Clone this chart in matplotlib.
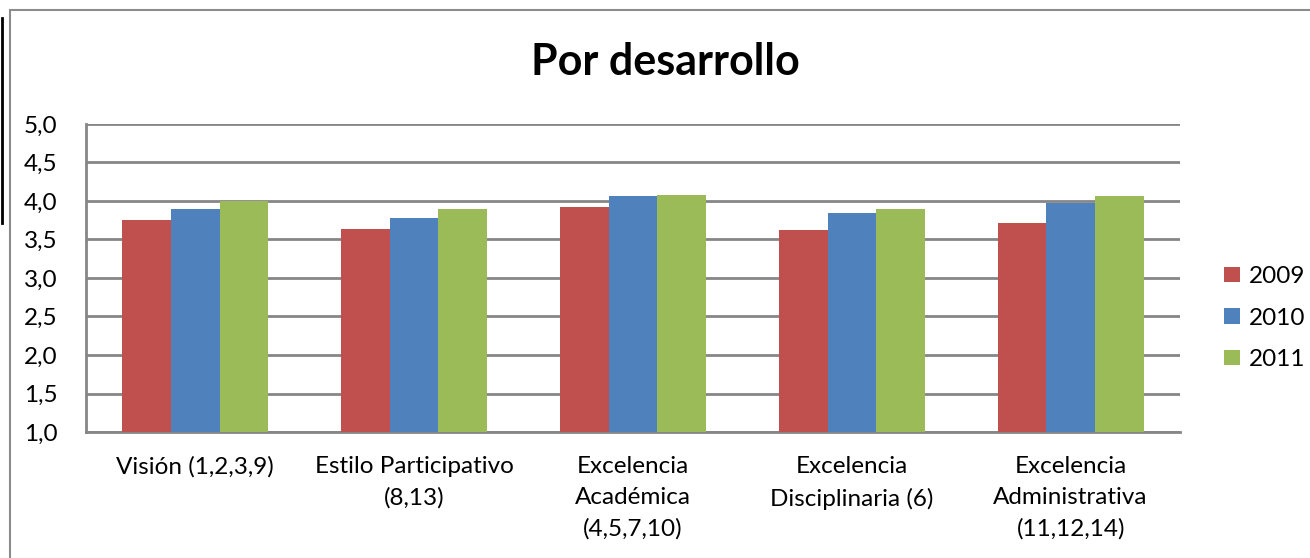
import numpy as np
import matplotlib.pyplot as plt
from matplotlib.patches import Rectangle
from matplotlib.lines import Line2D

plt.rcParams['font.family'] = ['Lato', 'DejaVu Sans']

categories = ['Visión (1,2,3,9)', 'Estilo Participativo\n(8,13)',
              'Excelencia\nAcadémica\n(4,5,7,10)', 'Excelencia\nDisciplinaria (6)',
              'Excelencia\nAdministrativa\n(11,12,14)']
years = ['2009', '2010', '2011']
v2009 = [3.75, 3.63, 3.92, 3.62, 3.72]
v2010 = [3.90, 3.78, 4.07, 3.84, 3.98]
v2011 = [4.00, 3.89, 4.08, 3.89, 4.06]
colors = ['#C0504D', '#4F81BD', '#9BBB59']

fig = plt.figure(figsize=(13.1, 5.58), dpi=100)
ax = fig.add_axes([0.0656, 0.2258, 0.8352, 0.552])

x = np.arange(len(categories))
w = 0.222
for i, (vals, col, lab) in enumerate(zip([v2009, v2010, v2011], colors, years)):
    ax.bar(x + (i - 1) * w, np.array(vals) - 1.0, bottom=1.0, width=w,
           color=col, label=lab, zorder=3)

ax.set_xlim(-0.5, len(categories) - 0.5)
ax.set_ylim(1.0, 5.0)
ax.set_yticks(np.arange(1.0, 5.01, 0.5))
ax.set_yticklabels([f'{t:.1f}'.replace('.', ',') for t in np.arange(1.0, 5.01, 0.5)])
ax.set_xticks(x)
ax.set_xticklabels(categories, linespacing=1.56, va='top')
ax.tick_params(axis='both', length=0, labelsize=17.5)
ax.tick_params(axis='x', pad=17.5)
ax.tick_params(axis='y', pad=44.5)
ax.grid(axis='y', color='#868686', linewidth=2, zorder=0)
for side in ['top', 'right']:
    ax.spines[side].set_visible(False)
for side in ['left', 'bottom']:
    ax.spines[side].set_color('#868686')
    ax.spines[side].set_linewidth(2)
for lbl in ax.get_yticklabels():
    lbl.set_horizontalalignment('left')

fig.text(0.508, 0.888, 'Por desarrollo', ha='center', va='center',
         fontsize=31, fontweight='bold')

leg = fig.legend(loc='center left', bbox_to_anchor=(0.918, 0.43), frameon=False,
                 fontsize=17.5, handlelength=0.62, handleheight=0.62,
                 handletextpad=0.4, labelspacing=0.84)

# chart border and the stray dark line at the left edge
fig.patches.append(Rectangle((10 / 1310, -0.1), 1.2, (548 / 558) + 0.1,
                             transform=fig.transFigure, fill=False,
                             edgecolor='#8C8C8C', linewidth=1.5))
fig.lines.append(Line2D([2 / 1310, 2 / 1310], [1 - 18 / 558, 1 - 223 / 558],
                        transform=fig.transFigure, color='black', linewidth=2))

fig.savefig('out.png', dpi=100)
